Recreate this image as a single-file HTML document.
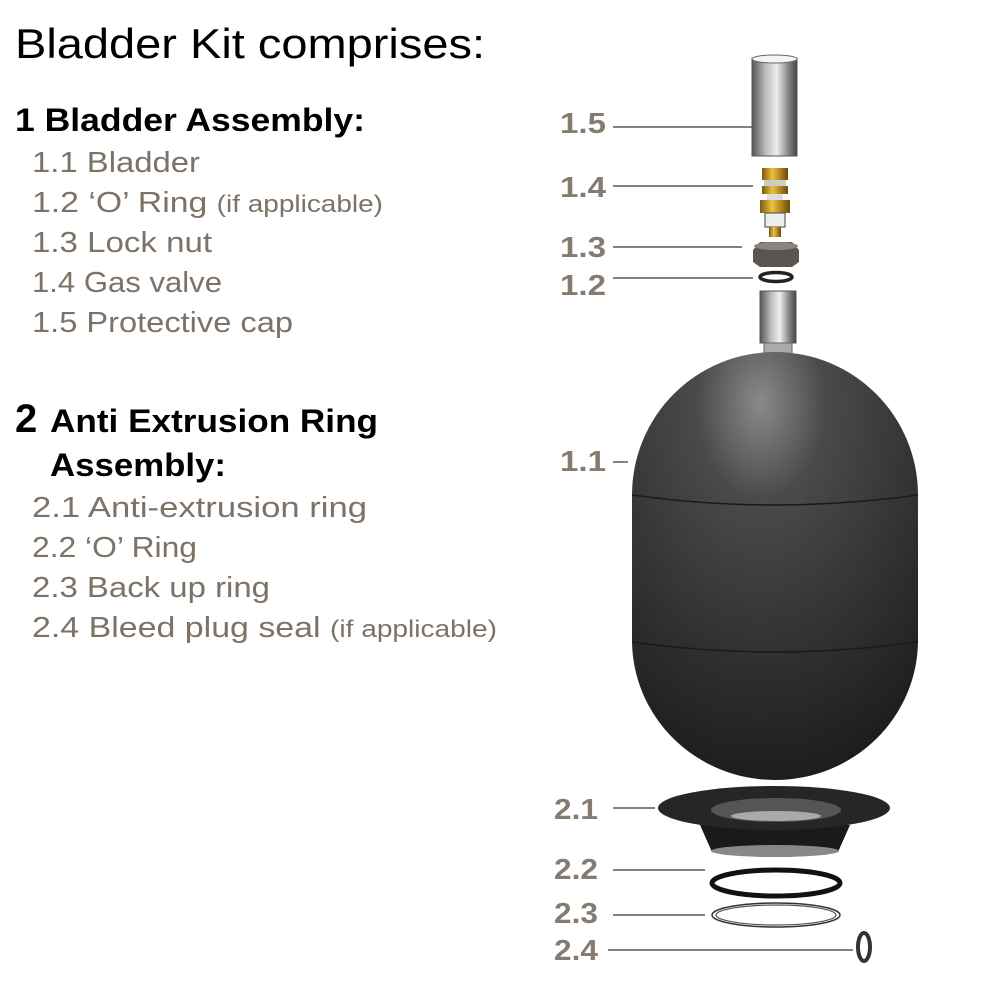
<!DOCTYPE html>
<html><head><meta charset="utf-8"><style>
html,body{margin:0;padding:0;background:#fff;width:1000px;height:1000px;overflow:hidden}
svg{display:block}
text{font-family:"Liberation Sans",sans-serif}
.t{fill:#7d7266;font-size:29px}
.l{fill:#857b6f;font-size:29px;font-weight:bold}
.ln{stroke:#8a8074;stroke-width:2}
</style></head><body>
<svg width="1000" height="1000" viewBox="0 0 1000 1000">
<defs>
<radialGradient id="bg" cx="0.45" cy="0.12" r="0.9">
<stop offset="0" stop-color="#8a8a8a"/><stop offset="0.25" stop-color="#4a4a4a"/><stop offset="0.7" stop-color="#2e2e2e"/><stop offset="1" stop-color="#1c1c1c"/>
</radialGradient>
<linearGradient id="cyl" x1="0" x2="1">
<stop offset="0" stop-color="#555"/><stop offset="0.3" stop-color="#bbb"/><stop offset="0.55" stop-color="#eee"/><stop offset="0.8" stop-color="#888"/><stop offset="1" stop-color="#444"/>
</linearGradient>
<linearGradient id="gold" x1="0" x2="1">
<stop offset="0" stop-color="#7a5a10"/><stop offset="0.4" stop-color="#f0c040"/><stop offset="1" stop-color="#6a4a08"/>
</linearGradient>
</defs>

<text x="15" y="58" font-size="42" fill="#000" textLength="470" lengthAdjust="spacingAndGlyphs">Bladder Kit comprises:</text>
<text x="15" y="131" font-size="32" font-weight="bold" fill="#000" textLength="350" lengthAdjust="spacingAndGlyphs">1 Bladder Assembly:</text>
<text class="t" x="32" y="172" textLength="168" lengthAdjust="spacingAndGlyphs">1.1 Bladder</text>
<text class="t" x="32" y="212" textLength="351" lengthAdjust="spacingAndGlyphs">1.2 ‘O’ Ring <tspan font-size="24">(if applicable)</tspan></text>
<text class="t" x="32" y="252" textLength="180" lengthAdjust="spacingAndGlyphs">1.3 Lock nut</text>
<text class="t" x="32" y="292" textLength="190" lengthAdjust="spacingAndGlyphs">1.4 Gas valve</text>
<text class="t" x="32" y="332" textLength="261" lengthAdjust="spacingAndGlyphs">1.5 Protective cap</text>

<text x="15" y="432" font-size="40" font-weight="bold" fill="#000">2</text>
<text x="50" y="432" font-size="32" font-weight="bold" fill="#000" textLength="328" lengthAdjust="spacingAndGlyphs">Anti Extrusion Ring</text>
<text x="50" y="476" font-size="32" font-weight="bold" fill="#000" textLength="176" lengthAdjust="spacingAndGlyphs">Assembly:</text>
<text class="t" x="32" y="517" textLength="335" lengthAdjust="spacingAndGlyphs">2.1 Anti-extrusion ring</text>
<text class="t" x="32" y="557" textLength="165" lengthAdjust="spacingAndGlyphs">2.2 ‘O’ Ring</text>
<text class="t" x="32" y="597" textLength="238" lengthAdjust="spacingAndGlyphs">2.3 Back up ring</text>
<text class="t" x="32" y="637" textLength="465" lengthAdjust="spacingAndGlyphs">2.4 Bleed plug seal <tspan font-size="24">(if applicable)</tspan></text>

<!-- right labels -->
<text class="l" x="560" y="133" textLength="46" lengthAdjust="spacingAndGlyphs">1.5</text>
<text class="l" x="560" y="197" textLength="46" lengthAdjust="spacingAndGlyphs">1.4</text>
<text class="l" x="560" y="257" textLength="46" lengthAdjust="spacingAndGlyphs">1.3</text>
<text class="l" x="560" y="295" textLength="46" lengthAdjust="spacingAndGlyphs">1.2</text>
<text class="l" x="560" y="471" textLength="46" lengthAdjust="spacingAndGlyphs">1.1</text>
<text class="l" x="554" y="819" textLength="44" lengthAdjust="spacingAndGlyphs">2.1</text>
<text class="l" x="554" y="879" textLength="44" lengthAdjust="spacingAndGlyphs">2.2</text>
<text class="l" x="554" y="923" textLength="44" lengthAdjust="spacingAndGlyphs">2.3</text>
<text class="l" x="554" y="960" textLength="44" lengthAdjust="spacingAndGlyphs">2.4</text>

<line class="ln" x1="613" y1="127" x2="752" y2="127"/>
<line class="ln" x1="613" y1="186" x2="753" y2="186"/>
<line class="ln" x1="613" y1="247" x2="742" y2="247"/>
<line class="ln" x1="613" y1="278" x2="753" y2="278"/>
<line class="ln" x1="613" y1="462" x2="628" y2="462"/>
<line class="ln" x1="613" y1="808" x2="655" y2="808"/>
<line class="ln" x1="613" y1="870" x2="705" y2="870"/>
<line class="ln" x1="613" y1="915" x2="705" y2="915"/>
<line class="ln" x1="608" y1="950" x2="853" y2="950"/>

<!-- cap -->
<rect x="752" y="58" width="45" height="98" fill="url(#cyl)" stroke="#555"/>
<ellipse cx="774.5" cy="59" rx="22.5" ry="4" fill="#f4f4f4" stroke="#666"/>
<!-- valve -->
<rect x="762" y="168" width="26" height="12" fill="url(#gold)"/>
<rect x="764" y="180" width="22" height="6" fill="#ccc"/>
<rect x="762" y="186" width="26" height="8" fill="url(#gold)"/>
<rect x="767" y="194" width="16" height="6" fill="#ddd"/>
<rect x="760" y="200" width="30" height="13" fill="url(#gold)"/>
<rect x="765" y="213" width="20" height="14" fill="#eee" stroke="#444"/>
<rect x="769" y="227" width="12" height="10" fill="url(#gold)"/>
<!-- nut -->
<path d="M753 250 L760 242 L792 242 L799 250 L799 262 L792 267 L760 267 L753 262 Z" fill="#5a5550"/>
<ellipse cx="776" cy="246" rx="22" ry="4" fill="#8a8580"/>
<!-- o ring -->
<ellipse cx="776" cy="277" rx="16" ry="4.5" fill="none" stroke="#222" stroke-width="3.5"/>
<!-- stem -->
<rect x="760" y="291" width="36" height="52" fill="url(#cyl)" stroke="#555"/>
<rect x="764" y="343" width="28" height="18" fill="#aaa" stroke="#666"/>
<!-- bladder -->
<path d="M632 495 A143 143 0 0 1 918 495 L918 640 A143 140 0 0 1 632 640 Z" fill="url(#bg)"/>
<path d="M632 495 Q775 515 918 495" fill="none" stroke="#1a1a1a" stroke-width="1.5"/>
<path d="M632 642 Q775 662 918 642" fill="none" stroke="#1a1a1a" stroke-width="1.5"/>
<!-- AER -->
<path d="M700 825 L712 852 Q775 862 838 852 L850 825 Z" fill="#1a1a1a"/>
<ellipse cx="775" cy="851" rx="64" ry="6" fill="#888"/>
<ellipse cx="774" cy="808" rx="116" ry="22" fill="#262626"/>
<ellipse cx="776" cy="810" rx="65" ry="12" fill="#555"/>
<ellipse cx="776" cy="816" rx="45" ry="5" fill="#aaa"/>
<!-- 2.2 -->
<ellipse cx="776" cy="883" rx="64" ry="13" fill="none" stroke="#111" stroke-width="5"/>
<!-- 2.3 -->
<ellipse cx="776" cy="915" rx="64" ry="12" fill="none" stroke="#333" stroke-width="1.5"/>
<ellipse cx="776" cy="915" rx="60" ry="10" fill="none" stroke="#555" stroke-width="1.2"/>
<!-- 2.4 -->
<ellipse cx="864" cy="947" rx="6" ry="14" fill="none" stroke="#333" stroke-width="4"/>
</svg>
</body></html>
